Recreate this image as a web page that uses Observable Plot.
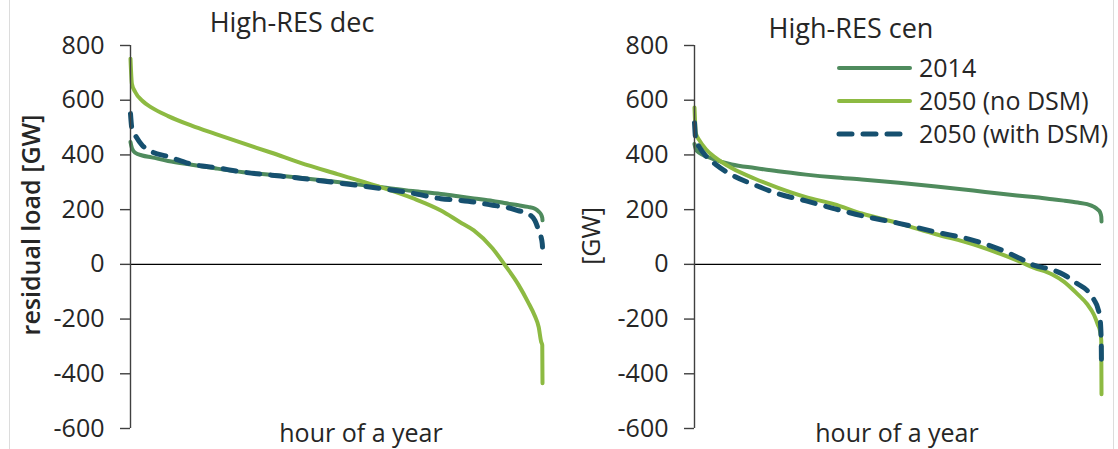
<!DOCTYPE html>
<html>
<head>
<meta charset="utf-8">
<script src="https://cdn.jsdelivr.net/npm/d3@7"></script>
<script src="https://cdn.jsdelivr.net/npm/@observablehq/plot@0.6"></script>
<style>
  html, body { margin: 0; padding: 0; background: #fff; }
  #wrap { position: relative; width: 1118px; height: 449px; overflow: hidden; background: #fff;
          font-family: "Open Sans", Lato, sans-serif; color: #262626; }
  .panel { position: absolute; top: 0; }
  .txt { position: absolute; font-size: 25px; white-space: nowrap; transform: translate(-50%, -50%); line-height: 1; }
  .title { font-size: 27px; }
  .rot { transform: translate(-50%, -50%) rotate(-90deg); }
  .bold { font-weight: 600; }
  .border { position: absolute; top: 0; width: 1px; height: 449px; background: #dcdcdc; }
  .leg { position: absolute; display: flex; align-items: center; font-size: 25px; line-height: 1; white-space: nowrap; }
  .leg svg { display: block; margin-right: 6px; }
</style>
</head>
<body>
<div id="wrap"></div>
<script>
// ---- data (hour of the year, sorted residual load in GW) ----
const hours = [0, 30, 100, 250, 450, 800, 1300, 1800, 2400, 3000, 3600, 4400, 5200, 6000, 6600, 7000, 7300, 7700, 7950, 8250, 8450, 8600, 8680, 8730, 8755, 8760];

const dec2014    = [447, 425, 408, 398, 391, 378, 364, 351, 337, 327, 317, 301, 285, 268, 257, 248, 241, 232, 224, 216, 210, 203, 193, 182, 170, 161];
const decNoDSM   = [752, 660, 630, 598, 573, 542, 507, 477, 442, 408, 372, 330, 289, 242, 197, 155, 124, 58, 0, -75, -137, -190, -230, -282, -295, -435];
const decWithDSM = [551, 496, 472, 435, 412, 394, 366, 354, 337, 326, 315, 298, 280, 260, 240, 234, 228, 216, 210, 196, 185, 160, 124, 100, 75, 63];

const cen2014    = [440, 420, 408, 395, 382, 365, 352, 340, 328, 318, 310, 298, 285, 270, 258, 251, 246, 238, 233, 226, 220, 210, 200, 190, 175, 157];
const cenNoDSM   = [573, 478, 455, 420, 390, 352, 313, 280, 246, 220, 186, 150, 110, 73, 37, 10, -12, -37, -63, -110, -145, -185, -220, -245, -280, -475];
const cenWithDSM = [518, 451, 430, 395, 366, 327, 290, 258, 232, 204, 178, 150, 118, 88, 53, 22, -3, -20, -38, -72, -95, -130, -160, -200, -290, -385];

const seriesNames = ["2014", "2050 (no DSM)", "2050 (with DSM)"];
const seriesColors = ["#4f8b5d", "#8dba42", "#16506f"];
const yTicks = [-600, -400, -200, 0, 200, 400, 600, 800];
const panelTitles = ["High-RES dec", "High-RES cen"];
const yLabels = ["residual load [GW]", "[GW]"];
const xLabel = "hour of a year";

// ---- drawing ----
const W = 559, H = 449;
function rows(vals) { return hours.map((h, i) => ({hour: h, value: vals[i]})); }

function panel(s2014, sNo, sWith, mLeft) {
  return Plot.plot({
    width: W, height: H,
    marginLeft: mLeft, marginRight: 17, marginTop: 45, marginBottom: 21,
    style: {fontFamily: '"Open Sans", Lato, sans-serif', fontSize: "25px", color: "#262626", background: "transparent", overflow: "visible"},
    x: {domain: [0, 8760], axis: null},
    y: {domain: [-600, 800], axis: null},
    marks: [
      Plot.ruleY([0], {stroke: "#000", strokeWidth: 1.3}),
      Plot.line(rows(s2014), {x: "hour", y: "value", stroke: seriesColors[0], strokeWidth: 4, curve: "monotone-x"}),
      Plot.line(rows(sNo), {x: "hour", y: "value", stroke: seriesColors[1], strokeWidth: 4, curve: "monotone-x"}),
      Plot.line(rows(sWith), {x: "hour", y: "value", stroke: seriesColors[2], strokeWidth: 5, strokeDasharray: "13,11", strokeLinecap: "round", curve: "monotone-x"}),
      Plot.ruleX([0], {stroke: "#404040", strokeWidth: 1.4}),
      Plot.axisY(yTicks, {tickSize: 10, tickPadding: 16, label: null, stroke: "#404040", strokeWidth: 1.4, fontSize: 25, fill: "#262626", tickFormat: d => String(d)})
    ]
  });
}

const wrap = document.getElementById("wrap");
const p1 = panel(dec2014, decNoDSM, decWithDSM, 130);
p1.classList.add("panel"); p1.style.left = "0px";
const p2 = panel(cen2014, cenNoDSM, cenWithDSM, 135);
p2.classList.add("panel"); p2.style.left = "559px";
wrap.appendChild(p1);
wrap.appendChild(p2);

function addText(str, x, y, cls) {
  const d = document.createElement("div");
  d.className = "txt" + (cls ? " " + cls : "");
  d.textContent = str;
  d.style.left = x + "px"; d.style.top = y + "px";
  wrap.appendChild(d);
}
addText(panelTitles[0], 292, 21, "title");
addText(panelTitles[1], 851, 27, "title");
addText(xLabel, 361, 432);
addText(xLabel, 897, 432);
addText(yLabels[0], 30, 225, "rot bold");
addText(yLabels[1], 590, 236, "rot");

// legend
const legY = [67, 100, 133];
seriesNames.forEach((name, i) => {
  const row = document.createElement("div");
  row.className = "leg";
  row.style.left = "836px";
  row.style.top = (legY[i] - 12) + "px";
  const dashed = i === 2;
  row.innerHTML = `<svg width="77" height="24"><line x1="3" x2="74" y1="12" y2="12" stroke="${seriesColors[i]}" stroke-width="${dashed ? 5 : 4}" stroke-linecap="round" ${dashed ? 'stroke-dasharray="13,11"' : ''}/></svg><span>${name}</span>`;
  wrap.appendChild(row);
});

// faint image borders
[9, 1113].forEach(x => {
  const b = document.createElement("div");
  b.className = "border"; b.style.left = x + "px";
  wrap.appendChild(b);
});
</script>
</body>
</html>
